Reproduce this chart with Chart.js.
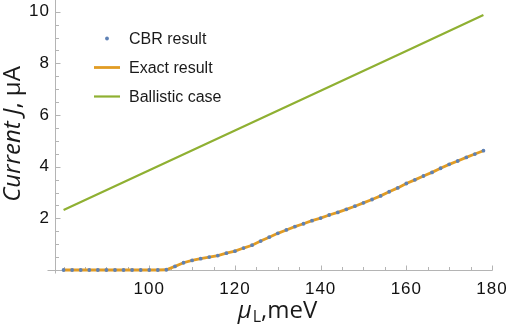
<!DOCTYPE html>
<html>
<head>
<meta charset="utf-8">
<script src="https://cdn.jsdelivr.net/npm/chart.js"></script>
<style>
  html, body { margin: 0; padding: 0; background: #fff; }
  canvas { display: block; }
</style>
</head>
<body>
<canvas id="chart_current" width="508" height="326"></canvas>
<script>
// values
const mu = [80, 82, 84, 86, 88, 90, 92, 94, 96, 98, 100, 102, 104, 106, 108, 110, 112, 114, 116, 118,
            120, 122, 124, 126, 128, 130, 132, 134, 136, 138, 140, 142, 144, 146, 148, 150, 152, 154, 156, 158,
            160, 162, 164, 166, 168, 170, 172, 174, 176, 178];
const cbr = [0, 0, 0, 0, 0, 0, 0, 0, 0, 0, 0, 0, 0.01, 0.14, 0.28, 0.37, 0.44, 0.50, 0.56, 0.65,
             0.73, 0.85, 0.96, 1.12, 1.27, 1.42, 1.55, 1.68, 1.79, 1.91, 2.01, 2.13, 2.23, 2.35, 2.47, 2.60, 2.73, 2.87, 3.03, 3.18,
             3.35, 3.49, 3.64, 3.78, 3.94, 4.09, 4.22, 4.36, 4.49, 4.62];
const exact = [0, 0, 0, 0, 0, 0, 0, 0, 0, 0, 0, 0, 0.01, 0.14, 0.28, 0.37, 0.44, 0.50, 0.56, 0.65,
               0.73, 0.85, 0.96, 1.12, 1.27, 1.42, 1.55, 1.68, 1.79, 1.91, 2.01, 2.13, 2.23, 2.35, 2.47, 2.60, 2.73, 2.87, 3.03, 3.18,
               3.35, 3.49, 3.64, 3.78, 3.94, 4.09, 4.22, 4.36, 4.49, 4.62];
const muBallistic = [80, 100, 120, 140, 160, 178];
const ballistic = [2.32, 3.86, 5.40, 6.94, 8.48, 9.87];
const xTickLabels = [100, 120, 140, 160, 180];
const yTickLabels = [2, 4, 6, 8, 10];

const axisGrey = "#b4b4b4";
const pts = (xs, ys) => xs.map((x, i) => ({ x: x, y: ys[i] }));

// Mathematica-like axes: inward ticks, legend inside, styled titles
const frame = {
  id: 'frame',
  beforeDraw(chart) {
    chart.ctx.letterSpacing = '1px';
  },
  beforeDatasetsDraw(chart) {
    const ctx = chart.ctx;
    const xs = chart.scales.x, ys = chart.scales.y;
    const area = chart.chartArea;
    ctx.letterSpacing = '0px';
    ctx.save();
    ctx.strokeStyle = axisGrey;
    ctx.lineWidth = 1;
    const x0 = Math.round(area.left) + 0.5;
    const y0 = Math.round(ys.getPixelForValue(0)) + 0.5;
    ctx.beginPath();
    ctx.moveTo(x0 - 8, y0); ctx.lineTo(Math.round(area.right) + 0.5, y0);
    ctx.moveTo(x0, 0); ctx.lineTo(x0, y0 + 3);
    for (let v = 80; v <= 180; v += 5) {
      const px = Math.round(xs.getPixelForValue(v)) + 0.5;
      const len = xTickLabels.includes(v) ? 5 : 3.5;
      ctx.moveTo(px, y0); ctx.lineTo(px, y0 - len);
    }
    for (let v = 0.5; v <= 10; v += 0.5) {
      const py = Math.round(ys.getPixelForValue(v)) + 0.5;
      const len = yTickLabels.includes(v) ? 5 : 3.5;
      ctx.moveTo(x0, py); ctx.lineTo(x0 + len, py);
    }
    ctx.stroke();
    ctx.restore();
  },
  afterDraw(chart) {
    const ctx = chart.ctx;
    ctx.save();
    ctx.letterSpacing = '0px';
    ctx.textBaseline = 'alphabetic';
    ctx.fillStyle = '#1a1a1a';

    // legend
    ctx.font = '16px "Liberation Sans"';
    chart.data.datasets.forEach((ds, i) => {
      const cy = 38.5 + i * 29;
      if (ds.showLine === false) {
        ctx.fillStyle = ds.backgroundColor;
        ctx.beginPath(); ctx.arc(107, cy, 1.9, 0, Math.PI * 2); ctx.fill();
      } else {
        ctx.strokeStyle = ds.borderColor;
        ctx.lineWidth = ds.borderWidth;
        ctx.beginPath(); ctx.moveTo(94, cy); ctx.lineTo(120, cy); ctx.stroke();
      }
      ctx.fillStyle = '#1a1a1a';
      ctx.fillText(ds.label, 129, cy + 5.8);
    });

    // y title
    ctx.save();
    ctx.translate(20, 134);
    ctx.rotate(-Math.PI / 2);
    const itY = 'italic 24px "Open Sans"', upY = '24px "Open Sans"';
    ctx.font = itY; const w1 = ctx.measureText('Current J').width;
    ctx.font = upY; const w2 = ctx.measureText(', \u03bcA').width;
    let sx = -(w1 + w2) / 2;
    ctx.font = itY; ctx.fillText('Current J', sx, 0);
    ctx.font = upY; ctx.fillText(', \u03bcA', sx + w1, 0);
    ctx.restore();

    // x title
    ctx.font = itY; const a = ctx.measureText('\u03bc').width;
    ctx.font = '16px "Open Sans"'; const b = ctx.measureText('L').width;
    ctx.font = upY; const c = ctx.measureText(',meV').width;
    let tx = 277 - (a + b + c) / 2;
    ctx.font = itY; ctx.fillText('\u03bc', tx, 318);
    ctx.font = '16px "Open Sans"'; ctx.fillText('L', tx + a + 1, 322);
    ctx.font = upY; ctx.fillText(',meV', tx + a + b + 1, 318);
    ctx.restore();
  }
};

const tickFont = { family: 'Liberation Sans', size: 17 };

new Chart('chart_current', {
  type: 'line',
  data: {
    datasets: [
      {
        label: 'CBR result',
        data: pts(mu, cbr),
        showLine: false,
        pointRadius: 1.9,
        pointBorderWidth: 0,
        backgroundColor: '#5E81B5',
        borderColor: '#5E81B5',
        order: 0,
        clip: false
      },
      {
        label: 'Exact result',
        data: pts(mu, exact),
        borderColor: '#E19C24',
        backgroundColor: '#E19C24',
        borderWidth: 2.8,
        pointRadius: 0,
        order: 1,
        clip: false
      },
      {
        label: 'Ballistic case',
        data: pts(muBallistic, ballistic),
        borderColor: '#8FB032',
        backgroundColor: '#8FB032',
        borderWidth: 2.2,
        pointRadius: 0,
        order: 2,
        clip: false
      }
    ]
  },
  options: {
    responsive: false,
    animation: false,
    devicePixelRatio: 1,
    layout: { padding: { top: 2, right: 16, left: 0, bottom: 0 } },
    plugins: { legend: { display: false }, tooltip: { enabled: false } },
    scales: {
      x: {
        type: 'linear',
        min: 78,
        max: 180,
        afterBuildTicks: s => { s.ticks = xTickLabels.map(v => ({ value: v })); },
        afterFit: s => { s.height = 56; s.paddingLeft = 0; s.paddingRight = 0; },
        ticks: { font: tickFont, color: '#111', padding: 9, maxRotation: 0, autoSkip: false },
        grid: { display: false, drawTicks: false },
        border: { display: false }
      },
      y: {
        min: 0,
        max: 10.3,
        afterBuildTicks: s => { s.ticks = yTickLabels.map(v => ({ value: v })); },
        afterFit: s => { s.width = 55; s.paddingTop = 0; s.paddingBottom = 0; },
        ticks: { font: tickFont, color: '#111', padding: 5 },
        grid: { display: false, drawTicks: false },
        border: { display: false }
      }
    }
  },
  plugins: [frame]
});
</script>
</body>
</html>
